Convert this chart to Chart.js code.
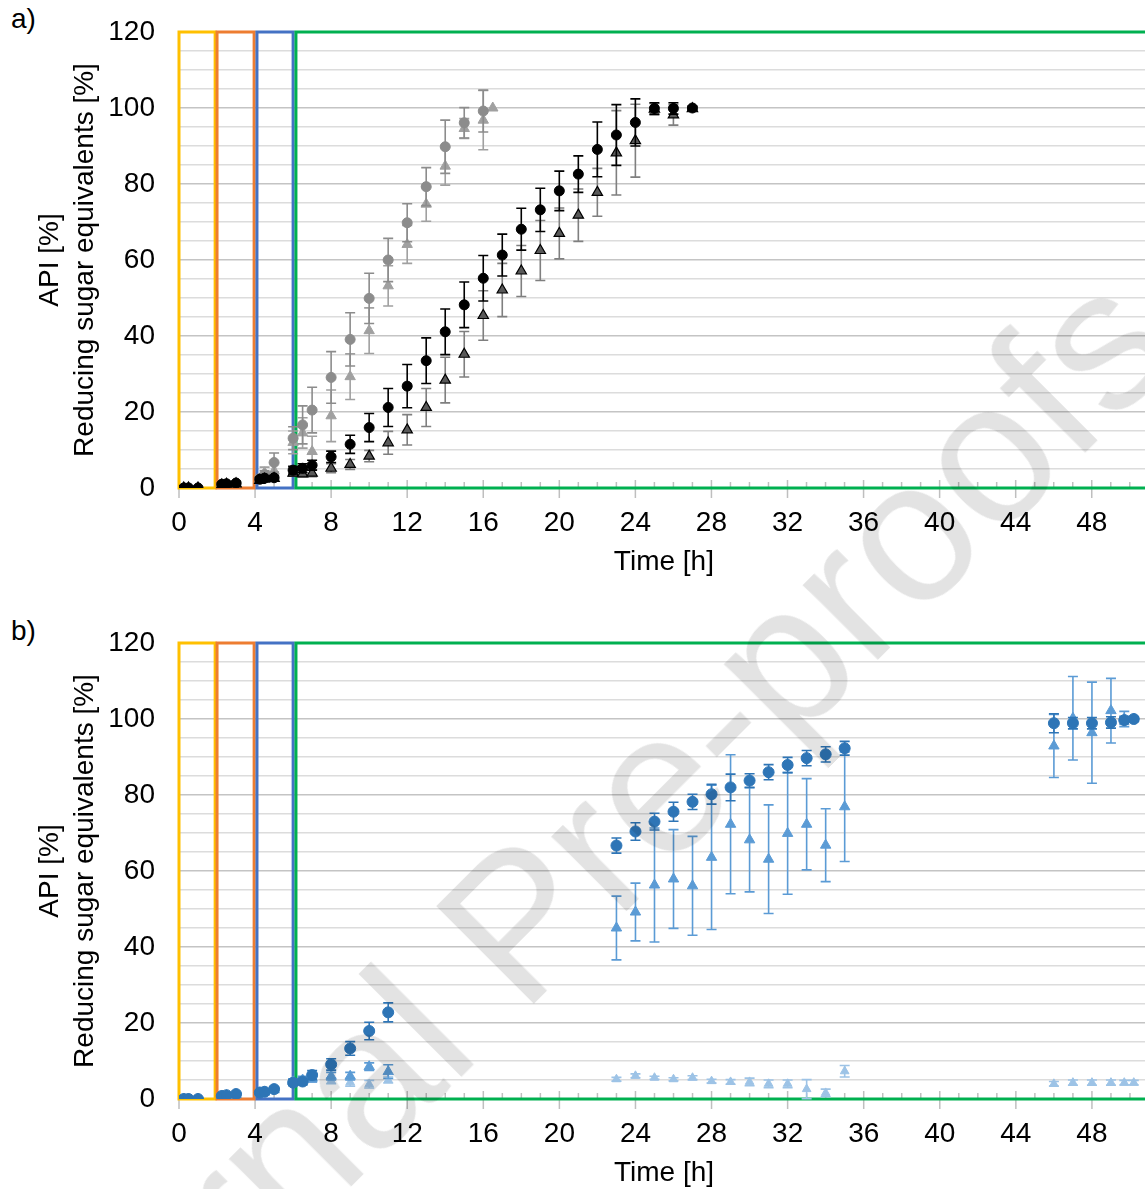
<!DOCTYPE html>
<html>
<head>
<meta charset="utf-8">
<script src="https://cdn.jsdelivr.net/npm/chart.js@4.4.1/dist/chart.umd.min.js"></script>
<style>
  html, body { margin: 0; padding: 0; background: #fff; }
  body { position: relative; width: 1145px; height: 1189px; overflow: hidden;
         font-family: "Liberation Sans", Arial, sans-serif; }
  .panel { position: absolute; left: 0; width: 1156px; height: 594px; }
  .tag { position: absolute; left: 11px; font-size: 28px; line-height: 1; color: #000; }
  .wm { position: absolute; left: 552px; top: 888px; transform: translate(-50%, -50%) rotate(-45deg);
        font-size: 200px; line-height: 1; white-space: nowrap; color: rgba(0, 0, 0, 0.11);
        pointer-events: none; }
</style>
</head>
<body>
<div class="tag" style="top:5px">a)</div>
<div class="panel" style="top:0"><canvas id="chartA" width="1156" height="594"></canvas></div>
<div class="tag" style="top:617px">b)</div>
<div class="panel" style="top:611px"><canvas id="chartB" width="1156" height="594"></canvas></div>
<div class="wm">Journal Pre-proofs</div>
<script>
// process phases (h)
const phaseStart = [0, 2, 4.1, 6.15];
const phaseEnd = [1.9, 3.95, 6, 53];
const phaseColors = ['#ffc000', '#ed7d31', '#4472c4', '#00b050'];

// ---- panel a ----
const tEarly = [0.25, 0.5, 1, 2.25, 2.5, 3, 4.25, 4.5, 5];

const tGreyCircle = tEarly.concat([6, 6.5, 7, 8, 9, 10, 11, 12, 13, 14, 15, 16]);
const greyCircle = [0, 0, 0, 0.8, 1, 1.2, 2.5, 3.5, 6.7, 13.1, 16.6, 20.5, 29.1, 39.1, 49.9, 60, 69.8, 79.3, 89.8, 96.1, 99.2];
const greyCircleErr = [0, 0, 0, 0.3, 0.3, 0.4, 0.8, 1, 2.5, 3, 5, 6, 6.8, 7, 6.6, 5.7, 5, 5, 7, 4, 5.5];

const tGreyTri = tEarly.concat([6, 6.5, 7, 8, 9, 10, 11, 12, 13, 14, 15, 16, 16.5]);
const greyTri = [0, 0, 0, 0.7, 0.9, 1.1, 2.2, 4, 4.5, 12, 14.5, 9.6, 19, 29.3, 41.4, 53.2, 64.1, 74.7, 84.7, 94.6, 96.8, 100];
const greyTriErr = [0, 0, 0, 0.3, 0.3, 0.3, 0.8, 1.5, 2, 3, 4, 4, 6.8, 6, 6, 5.3, 5, 4.5, 5, 2.6, 7.8, 0];

const tLate = [6, 6.5, 7, 8, 9, 10, 11, 12, 13, 14, 15, 16, 17, 18, 19, 20, 21, 22, 23, 24, 25, 26, 27];

const tBlackCircle = tEarly.concat(tLate);
const blackCircle = [0, 0, 0, 1, 1.1, 1.3, 2.3, 2.6, 2.7, 4.7, 5.2, 6.0, 8.2, 11.5, 15.9, 21.2, 26.8, 33.5, 41.1, 48.2, 55.2, 61.3, 68.1, 73.2, 78.2, 82.6, 89.1, 92.9, 96.2, 99.9, 99.9, 100];
const blackCircleErr = [0, 0, 0, 0.3, 0.3, 0.4, 0.5, 0.5, 0.6, 1, 1.2, 1.3, 1.5, 2.4, 3.7, 5, 5.7, 6, 6, 6, 6, 5.5, 5.5, 5.7, 5.2, 4.8, 7.2, 8, 6.2, 1.5, 1.5, 0.5];

const tDarkTri = tEarly.concat(tLate);
const darkTri = [0, 0, 0, 0.8, 1, 1.1, 2, 2.3, 2.5, 3.9, 3.7, 3.9, 5.2, 6.2, 8.4, 11.9, 15.3, 21.2, 28.4, 35.2, 45.4, 52.1, 57.1, 62.5, 67, 71.8, 77.8, 88.2, 91.4, 99.7, 98.2, 99.8];
const darkTriErr = [0, 0, 0, 0.3, 0.3, 0.3, 0.4, 0.5, 0.5, 0.8, 0.8, 0.9, 1.2, 1.3, 1.5, 3, 4, 5, 6, 6, 6.5, 7, 6.7, 7.9, 6.7, 6.9, 6.3, 11.1, 9.6, 1.5, 2.7, 0.5];

// ---- panel b ----
const tB = tEarly.concat([6, 6.5, 7, 8, 9, 10, 11, 23, 24, 25, 26, 27, 28, 29, 30, 31, 32, 33, 34, 35, 46, 47, 48, 49, 49.7, 50.2]);

const blueCircle = [0, 0, 0, 0.8, 1, 1.3, 1.7, 1.9, 2.6, 4.3, 4.6, 6.3, 9.1, 13.3, 17.9, 22.8, 66.7, 70.4, 73, 75.6, 78.2, 80.2, 82, 83.8, 86, 87.9, 89.7, 90.7, 92.3, 98.9, 98.9, 98.9, 99.1, 99.7, 100];
const blueCircleErr = [0, 0, 0, 0.3, 0.3, 0.4, 0.5, 0.5, 0.6, 0.8, 0.9, 1.2, 1.5, 1.8, 2.3, 2.5, 2, 2.3, 2.2, 2.5, 2, 2.6, 3.5, 1.8, 2, 2, 2, 2, 1.8, 2.5, 1.5, 1.5, 1.5, 1, 0.5];

const blueTri = [0, 0, 0, 0.7, 0.9, 1.1, 1.6, 1.8, 2.4, 4.5, 5, 5.5, 6, 6, 8.5, 7.2, 45, 49.2, 56.3, 57.9, 56.1, 63.6, 72.3, 68.2, 63.1, 69.9, 72.3, 66.8, 76.9, 92.9, 100.2, 96.4, 102.2, 100, 100];
const blueTriErr = [0, 0, 0, 0.2, 0.2, 0.3, 0.4, 0.4, 0.5, 0.8, 1, 1, 1, 1, 1, 1.8, 8.4, 7.6, 15, 13, 13, 19, 18.3, 13.7, 14.3, 16, 12, 9.6, 14.4, 8.3, 11, 13.3, 8.5, 2, 0.5];

const paleTri = [0, 0, 0, 0.7, 0.9, 1.1, 1.6, 1.8, 2.4, 4.5, 4.8, 5, 4.8, 4.4, 3.9, 5.0, 5.2, 6.1, 5.6, 5.2, 5.6, 4.7, 4.5, 4.5, 4.0, 4.0, 2.6, 1.6, 7.3, 4, 4.3, 4.3, 4.3, 4.3, 4.3];
const paleTriErr = [0, 0, 0, 0, 0, 0, 0, 0, 0, 0.5, 0.5, 0.5, 0.8, 1, 1, 0.8, 0.5, 0.5, 0.4, 0.4, 0.5, 0.5, 0.6, 1, 1, 1, 2.5, 1, 1.5, 0.6, 0.7, 0.7, 0.7, 0.6, 0.6];

const points = (t, v) => t.map((x, i) => ({ x: x, y: v[i] }));
const FONT = '"Liberation Sans", Arial, sans-serif';

// error bars are drawn just before the points of the same dataset
const errorBars = {
  id: 'errorBars',
  beforeDatasetDraw(chart, args) {
    const ds = chart.data.datasets[args.index];
    if (!ds.err) return;
    const xs = chart.scales.x, ys = chart.scales.y, ctx = chart.ctx;
    ctx.save();
    ctx.strokeStyle = ds.errColor;
    ctx.lineWidth = 1.6;
    ds.data.forEach((p, i) => {
      const e = ds.err[i];
      if (!e) return;
      const px = xs.getPixelForValue(p.x);
      const top = ys.getPixelForValue(p.y + e), bot = ys.getPixelForValue(p.y - e);
      ctx.beginPath();
      ctx.moveTo(px, top); ctx.lineTo(px, bot);
      ctx.moveTo(px - 5, top); ctx.lineTo(px + 5, top);
      ctx.moveTo(px - 5, bot); ctx.lineTo(px + 5, bot);
      ctx.stroke();
    });
    ctx.restore();
  }
};

// hourly tick marks + coloured phase frames
const phaseFrames = {
  id: 'phaseFrames',
  beforeDatasetsDraw(chart) {
    const xs = chart.scales.x, ys = chart.scales.y, ctx = chart.ctx;
    const y0 = ys.getPixelForValue(0), y1 = ys.getPixelForValue(120);
    ctx.save();
    ctx.strokeStyle = '#bfbfbf';
    ctx.lineWidth = 1.5;
    for (let h = 0; h <= xs.max; h++) {
      const px = xs.getPixelForValue(h);
      ctx.beginPath();
      if (h % 4 === 0) { ctx.moveTo(px, y0 - 8); ctx.lineTo(px, y0 + 10); }
      else { ctx.moveTo(px, y0 - 6); ctx.lineTo(px, y0); }
      ctx.stroke();
    }
    ctx.lineWidth = 3;
    phaseStart.forEach((s, i) => {
      const a = xs.getPixelForValue(s), b = xs.getPixelForValue(phaseEnd[i]);
      ctx.strokeStyle = phaseColors[i];
      ctx.strokeRect(a, y1, b - a, y0 - y1);
    });
    ctx.restore();
  }
};

function makeChart(id, datasets) {
  return new Chart(document.getElementById(id), {
    type: 'scatter',
    data: { datasets: datasets },
    plugins: [phaseFrames, errorBars],
    options: {
      responsive: false,
      animation: false,
      layout: { padding: { top: 32, left: 0, right: 0, bottom: 0 } },
      plugins: { legend: { display: false }, tooltip: { enabled: false } },
      scales: {
        x: {
          type: 'linear', min: 0, max: 51,
          afterFit(s) { s.height = 106; },
          grid: { display: false, drawTicks: false },
          border: { display: false },
          ticks: { stepSize: 4, includeBounds: false, autoSkip: false, maxRotation: 0, padding: 18,
                   color: '#000', font: { family: FONT, size: 28 } },
          title: { display: true, text: 'Time [h]', color: '#000', padding: { top: 0, bottom: 15 },
                   font: { family: FONT, size: 28 } }
        },
        y: {
          min: 0, max: 120,
          afterFit(s) { s.width = 179; s.paddingTop = 0; s.paddingBottom = 0; },
          grid: { drawTicks: false, lineWidth: 1.5,
                  color: c => (c.tick && c.tick.value % 20 === 0) ? '#c4c4c4' : '#dcdcdc' },
          border: { display: false },
          ticks: { stepSize: 5, autoSkip: false, padding: 24, color: '#000',
                   font: { family: FONT, size: 28 },
                   callback: v => (v % 20 === 0 ? v : '') },
          title: { display: true, text: ['API [%]', 'Reducing sugar equivalents [%]'], color: '#000',
                   padding: { top: 33, bottom: 0 },
                   font: { family: FONT, size: 28, lineHeight: 1.25 } }
        }
      }
    }
  });
}

makeChart('chartA', [
  { data: points(tBlackCircle, blackCircle), err: blackCircleErr, errColor: '#000000',
    pointStyle: 'circle', pointRadius: 5, backgroundColor: '#000000', borderColor: '#000000', borderWidth: 1 },
  { data: points(tDarkTri, darkTri), err: darkTriErr, errColor: '#7f7f7f',
    pointStyle: 'triangle', pointRadius: 6, backgroundColor: '#595959', borderColor: '#000000', borderWidth: 1.2 },
  { data: points(tGreyCircle, greyCircle), err: greyCircleErr, errColor: '#8c8c8c',
    pointStyle: 'circle', pointRadius: 5, backgroundColor: '#8c8c8c', borderColor: '#8c8c8c', borderWidth: 1 },
  { data: points(tGreyTri, greyTri), err: greyTriErr, errColor: '#a0a0a0',
    pointStyle: 'triangle', pointRadius: 6, backgroundColor: '#a0a0a0', borderColor: '#a0a0a0', borderWidth: 1 }
]);

makeChart('chartB', [
  { data: points(tB, blueCircle), err: blueCircleErr, errColor: '#2e75b6',
    pointStyle: 'circle', pointRadius: 5.5, backgroundColor: '#2e75b6', borderColor: '#2e75b6', borderWidth: 1 },
  { data: points(tB, blueTri), err: blueTriErr, errColor: '#5b9bd5',
    pointStyle: 'triangle', pointRadius: 6, backgroundColor: '#5b9bd5', borderColor: '#5b9bd5', borderWidth: 1 },
  { data: points(tB, paleTri), err: paleTriErr, errColor: '#9dc3e6',
    pointStyle: 'triangle', pointRadius: 5, backgroundColor: '#9dc3e6', borderColor: '#9dc3e6', borderWidth: 1 }
]);
</script>
</body>
</html>
